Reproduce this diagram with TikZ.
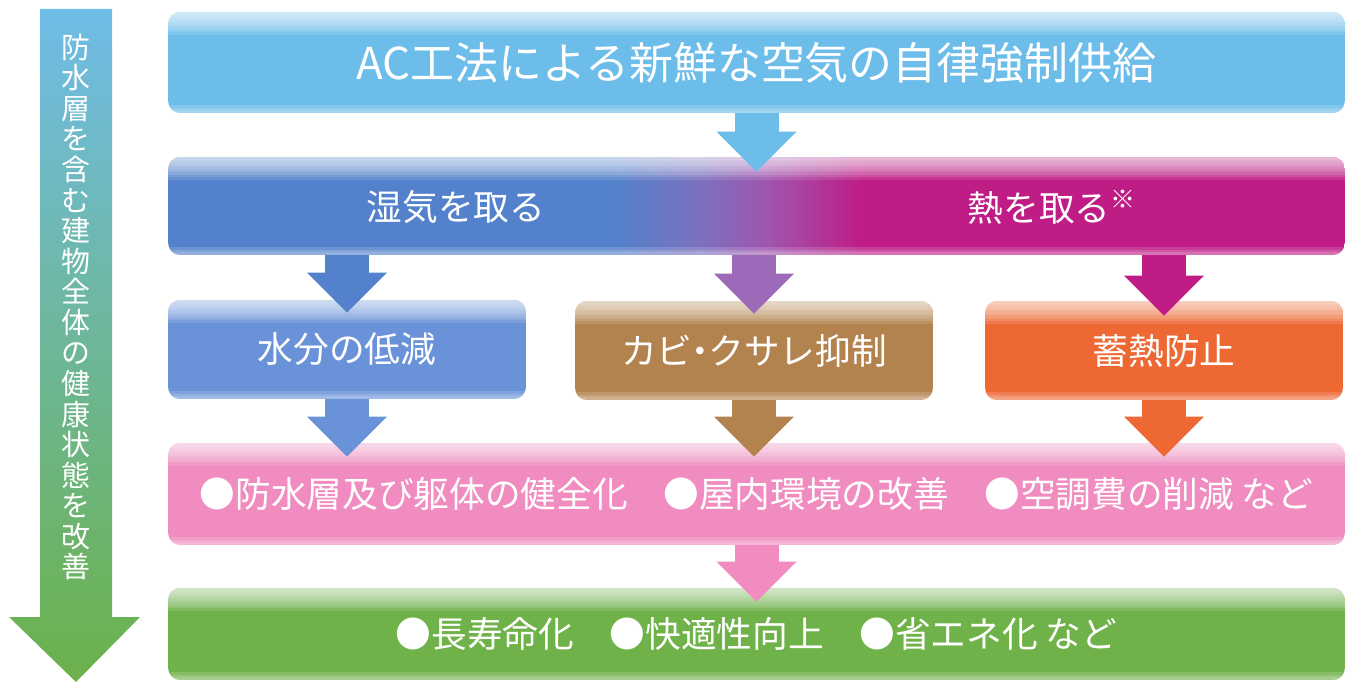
\documentclass[tikz,border=0pt]{standalone}
\usepackage{fontspec}
\setmainfont{Noto Sans CJK JP}
\usepackage{xcolor}
\usetikzlibrary{arrows.meta}
\usetikzlibrary{calc}

\definecolor{airblue}{HTML}{6CBDEA}
\definecolor{moistblue}{HTML}{5381CB}
\definecolor{mixblue}{HTML}{7A72C0}
\definecolor{midpurple}{HTML}{A055AE}
\definecolor{heatmagenta}{HTML}{BF1C85}
\definecolor{flowpurple}{HTML}{9C6AB8}
\definecolor{waterblue}{HTML}{6A92D8}
\definecolor{rotbrown}{HTML}{B3834F}
\definecolor{heatorange}{HTML}{EE6834}
\definecolor{benefitpink}{HTML}{F08CBF}
\definecolor{resultgreen}{HTML}{70B24A}
\definecolor{sideblue}{HTML}{6FBCE8}
\definecolor{sidegreen}{HTML}{6CB14A}

\pgfdeclarehorizontalshading{moistheat}{100bp}{color(0bp)=(moistblue); color(44bp)=(moistblue); color(47.5bp)=(mixblue); color(50.5bp)=(midpurple); color(54.5bp)=(heatmagenta); color(100bp)=(heatmagenta)}

\begin{document}
\begin{tikzpicture}[x=0.02cm, y=-0.02cm,
    box/.style={rounded corners=0.24cm, inner sep=0pt, text=white,
      path picture={
        \foreach \h in {0.05,0.1,...,0.46}
          \fill[white, sharp corners, opacity=0.12]
            (path picture bounding box.north west) rectangle
            ([yshift=-\h cm]path picture bounding box.north east);
        \foreach \h in {0.05,0.1,0.15}
          \fill[white, sharp corners, opacity=0.15]
            ([yshift=\h cm]path picture bounding box.south west) rectangle
            (path picture bounding box.south east);}},
    wide/.style={box, minimum width=23.54cm},
    small/.style={box, minimum width=7.16cm, minimum height=1.98cm},
    big/.style={font=\fontsize{25pt}{30pt}\selectfont},
    mid/.style={font=\fontsize{20.3pt}{24pt}\selectfont},
    flow/.style={draw=#1, line width=0.88cm,
      -{Triangle[width=1.6cm, length=0.8cm, line width=0pt]}}]
    \fill[white] (0,0) rectangle (1352,682);
    \useasboundingbox (0,0) rectangle (1352,682);

    \shade[top color=sideblue, bottom color=sidegreen]
      (40,9) -- (112,9) -- (112,617) -- (140,617)
      -- (76,682) -- (9,617) -- (40,617) -- cycle;
    \node[text=white, align=center, inner sep=0pt,
      font=\fontsize{16.5pt}{17.4pt}\selectfont] (sidelabel) at (76,307)
      {防\\水\\層\\を\\含\\む\\建\\物\\全\\体\\の\\健\\康\\状\\態\\を\\改\\善};

    \node[wide, big, fill=airblue, minimum height=2.02cm] (acbox) at (756.5,62.5)
      {AC工法による新鮮な空気の自律強制供給};
    \node[wide, shade, shading=moistheat, minimum height=1.96cm] (moist) at (756.5,206) {};
    \node[mid, text=white] (moistlabel) at (456,207) {湿気を取る};
    \node[mid, text=white] (heatlabel) at (1052,207) {熱を取る\textsuperscript{※}};

    \node[small, mid, fill=waterblue] (water) at (347,349.5) {水分の低減};
    \node[small, mid, fill=rotbrown] (rot) at (754,350.5)
      {カビ\kern-0.28em・\kern-0.28emクサレ抑制};
    \node[small, mid, fill=heatorange] (store) at (1164,350.5) {蓄熱防止};

    \node[wide, mid, fill=benefitpink, minimum height=2.04cm] (benefit) at (756.5,494)
      {●防水層及び躯体の健全化　●屋内環境の改善　●空調費の削減 など};
    \node[wide, mid, fill=resultgreen, minimum height=1.84cm] (result) at (756.5,634)
      {●長寿命化　●快適性向上　●省エネ化 など};

    \draw[flow=airblue] (acbox.south) -- ($(moist.north)+(0,15)$);
    \draw[flow=moistblue] (moist.south -| water.north) -- ($(water.north)+(0,13)$);
    \draw[flow=flowpurple] (moist.south -| rot.north) -- ($(rot.north)+(0,13)$);
    \draw[flow=heatmagenta] (moist.south -| store.north) -- ($(store.north)+(0,15)$);
    \draw[flow=waterblue] (water.south) -- ($(water.south |- benefit.north)+(0,14)$);
    \draw[flow=rotbrown] (rot.south) -- ($(rot.south |- benefit.north)+(0,14)$);
    \draw[flow=heatorange] (store.south) -- ($(store.south |- benefit.north)+(0,14)$);
    \draw[flow=benefitpink] (benefit.south) -- ($(result.north)+(0,14)$);
  \end{tikzpicture}
\end{document}
